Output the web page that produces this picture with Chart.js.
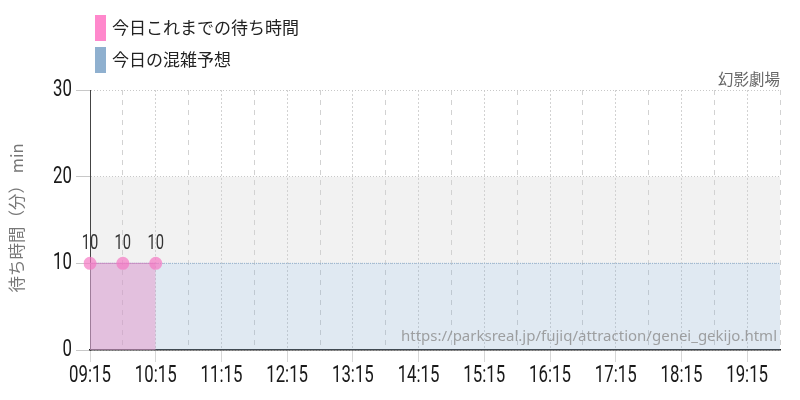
<!DOCTYPE html>
<html><head><meta charset="utf-8">
<script src="https://cdn.jsdelivr.net/npm/chart.js@4/dist/chart.umd.min.js"></script>
<style>html,body{margin:0;padding:0;background:#fff}#wrap{width:800px;height:400px}</style>
</head><body><div id="wrap"><canvas id="c" width="800" height="400"></canvas></div>
<script>
const categories = ["09:15","09:45","10:15","10:45","11:15","11:45","12:15","12:45","13:15","13:45","14:15","14:45","15:15","15:45","16:15","16:45","17:15","17:45","18:15","18:45","19:15","19:45"];
const actualWait = [10,10,10,null,null,null,null,null,null,null,null,null,null,null,null,null,null,null,null,null,null,null];
const forecastWait = [10,10,10,10,10,10,10,10,10,10,10,10,10,10,10,10,10,10,10,10,10,10];
const yTicks = [0,10,20,30];
const seriesNames = ["今日これまでの待ち時間","今日の混雑予想"];
const titleText = "幻影劇場";
const yTitle = "待ち時間（分） min";
const sourceUrl = "https://parksreal.jp/fujiq/attraction/genei_gekijo.html";

const JP = "'Noto Sans CJK JP','Noto Sans',sans-serif";
const NUM = "Roboto,'DejaVu Sans',sans-serif";
const SQUEEZE = 0.7;

function narrowText(ctx, txt, x, y, size, align){
  ctx.save();
  ctx.translate(x, y);
  ctx.scale(SQUEEZE, 1);
  ctx.font = size + "px " + NUM;
  ctx.textAlign = align; ctx.textBaseline = 'middle';
  ctx.fillText(txt, 0, 0);
  ctx.restore();
}

const deco = {
  id:'deco',
  beforeDraw(chart){
    const {ctx, chartArea:a, scales:{y}} = chart;
    ctx.save();
    ctx.fillStyle = '#f2f2f2';
    const t = y.getPixelForValue(20), b = y.getPixelForValue(10);
    ctx.fillRect(a.left, t, a.right-a.left, b-t);
    ctx.restore();
  },
  afterDraw(chart){
    const {ctx, chartArea:a, scales:{x, y}} = chart;
    ctx.save();
    ctx.fillStyle = '#1a1a1a';
    x.ticks.forEach((t,i)=>{
      if (i % 2 !== 0) return;
      narrowText(ctx, categories[i], x.getPixelForTick(i), 376, 24, 'center');
    });
    yTicks.forEach(v=>{
      narrowText(ctx, String(v), 72, y.getPixelForValue(v), 24, 'right');
    });
    const cols = ['#ff88cc','#8fb0cf'];
    seriesNames.forEach((n,i)=>{
      const top = 15 + i*32;
      ctx.fillStyle = cols[i];
      ctx.fillRect(95, top, 11, 26);
      ctx.fillStyle = '#222';
      ctx.font = "17px " + JP;
      ctx.textAlign = 'left'; ctx.textBaseline = 'middle';
      ctx.fillText(n, 112, top + 13);
    });
    ctx.fillStyle = '#666';
    ctx.font = "15.5px " + JP;
    ctx.textAlign = 'right'; ctx.textBaseline = 'middle';
    ctx.fillText(titleText, a.right, 79);
    ctx.save();
    ctx.translate(17, 218);
    ctx.rotate(-Math.PI/2);
    ctx.fillStyle = '#777';
    ctx.font = "16.5px " + JP;
    ctx.textAlign = 'center'; ctx.textBaseline = 'middle';
    ctx.fillText(yTitle, 0, 0);
    ctx.restore();
    ctx.fillStyle = 'rgba(140,140,140,0.8)';
    ctx.font = "15px 'Noto Sans',sans-serif";
    ctx.textAlign = 'right'; ctx.textBaseline = 'middle';
    ctx.fillText(sourceUrl, a.right - 3, 337);
    const meta = chart.getDatasetMeta(0);
    ctx.fillStyle = '#333';
    meta.data.forEach((p,i)=>{
      if (actualWait[i] == null) return;
      narrowText(ctx, String(actualWait[i]), p.x, p.y - 20, 21, 'center');
    });
    ctx.restore();
  }
};

new Chart(document.getElementById('c'), {
  type:'line',
  data:{
    labels: categories,
    datasets:[
      {label:seriesNames[0], data:actualWait, fill:'origin', backgroundColor:'rgba(229,151,202,0.5)',
       borderColor:'rgba(200,130,190,0.8)', borderWidth:1, pointRadius:6.5, pointHoverRadius:6.5,
       pointBackgroundColor:'rgba(245,120,195,0.7)', pointBorderWidth:0, tension:0, spanGaps:false, order:0},
      {label:seriesNames[1], data:forecastWait, fill:'origin', backgroundColor:'rgba(143,176,207,0.28)',
       borderColor:'rgba(143,176,207,0.9)', borderWidth:1, borderDash:[1,1], pointRadius:0, tension:0, order:1}
    ]
  },
  options:{
    responsive:false, animation:false,
    layout:{padding:{top:90, right:20, left:0, bottom:0}},
    plugins:{legend:{display:false}, tooltip:{enabled:false}},
    scales:{
      x:{
        offset:false,
        afterFit(s){ s.height = 50; },
        grid:{color:'#d2d2d2', tickLength:12, tickBorderDash:[1,0],
              tickColor:(c)=> c.index % 2 === 0 ? '#c8c8c8' : 'rgba(0,0,0,0)', drawTicks:true},
        border:{color:'#222', width:1.5, dash:(c)=> c.index % 2 === 0 ? [2,2] : [5,5]},
        ticks:{display:false, autoSkip:false, maxRotation:0,
               callback:(v,i)=> i % 2 === 0 ? categories[i] : ''}
      },
      y:{
        min:0, max:30,
        afterFit(s){ s.width = 90; },
        afterBuildTicks(s){ s.ticks = yTicks.map(v=>({value:v})); },
        grid:{color:'#c8c8c8', tickLength:14, tickColor:'#c8c8c8', tickBorderDash:[1,0], drawTicks:true},
        border:{color:'#444', width:1, dash:[1,2]},
        ticks:{display:false}
      }
    }
  },
  plugins:[deco]
});
</script></body></html>
